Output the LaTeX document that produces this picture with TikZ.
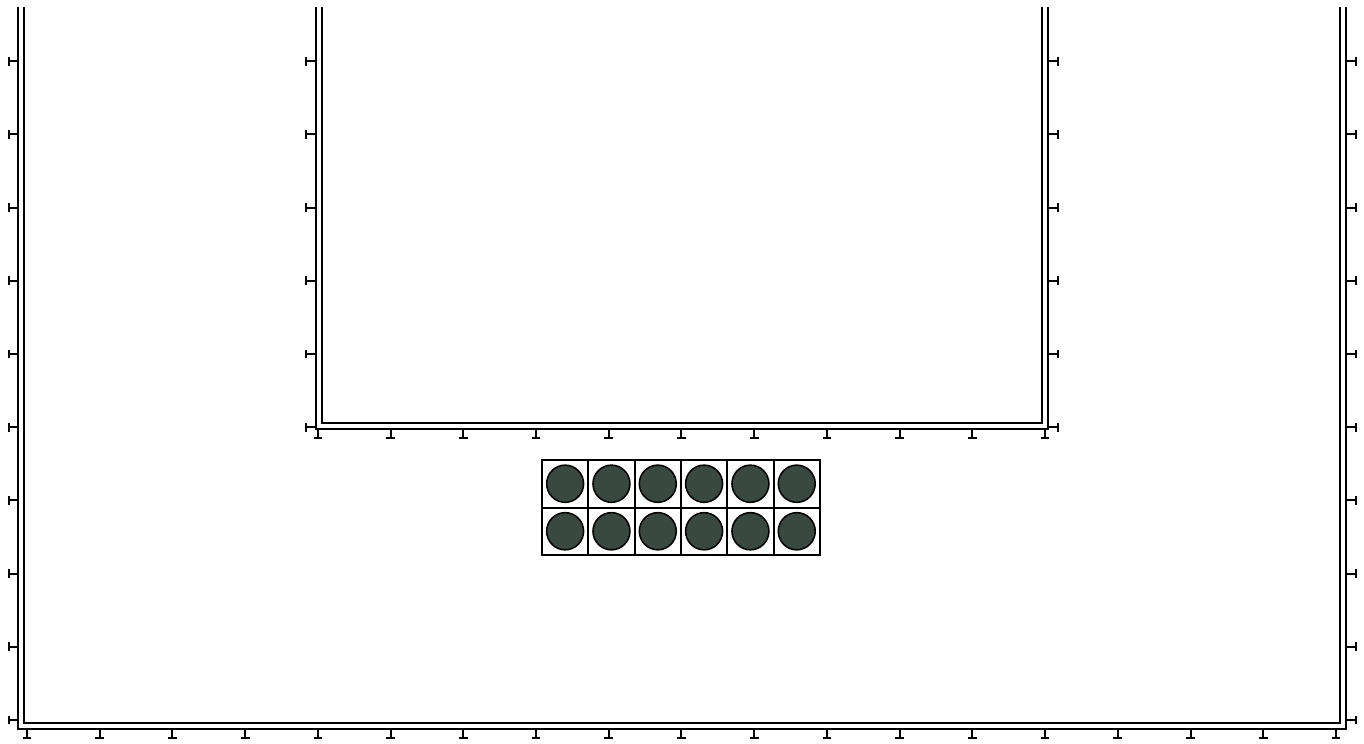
\documentclass[tikz,border=0pt]{standalone}
\usepackage{tikz}
\definecolor{bead}{RGB}{58,72,66}
\begin{document}
\begin{tikzpicture}[x=1cm,y=1.0066cm,
        wall/.style={double,double distance=1.45pt,line width=0.78pt},
        tick/.style={line width=0.78pt}]
        \useasboundingbox (-0.371,-0.314) rectangle (18.385,9.836);

        % 外框 (U 形双线)
        \draw[wall] (-0.08,9.74) -- (-0.08,-0.08) -- (18.1,-0.08) -- (18.1,9.74);

        % 内框
        \draw[wall] (4.02,9.74) -- (4.02,4.02) -- (14.0,4.02) -- (14.0,9.74);

        % 外框刻度
        \foreach \y in {0,...,9} {
            \draw[tick] (-0.12,\y) -- (-0.25,\y) ++(0,-0.06) -- ++(0,0.12);
            \draw[tick] (18.14,\y) -- (18.27,\y) ++(0,-0.06) -- ++(0,0.12);
        }
        \foreach \x in {0,...,18}
            \draw[tick] (\x,-0.12) -- (\x,-0.25) ++(-0.06,0) -- ++(0.12,0);

        % 内框刻度
        \foreach \y in {4,...,9} {
            \draw[tick] (3.97,\y) -- (3.84,\y) ++(0,-0.06) -- ++(0,0.12);
            \draw[tick] (14.05,\y) -- (14.18,\y) ++(0,-0.06) -- ++(0,0.12);
        }
        \foreach \x in {4,...,14}
            \draw[tick] (\x,3.97) -- (\x,3.85) ++(-0.06,0) -- ++(0.12,0);

        % 2 x 6 格子和圆
        \foreach \c in {0,...,5}
            \foreach \r in {0,1} {
                \draw[tick] (7.082+0.637*\c,2.254+0.649*\r) rectangle ++(0.637,0.649);
                \filldraw[fill=bead,line width=0.6pt] (7.4+0.637*\c,2.579+0.649*\r) circle (0.254);
            }
    \end{tikzpicture}
\end{document}
